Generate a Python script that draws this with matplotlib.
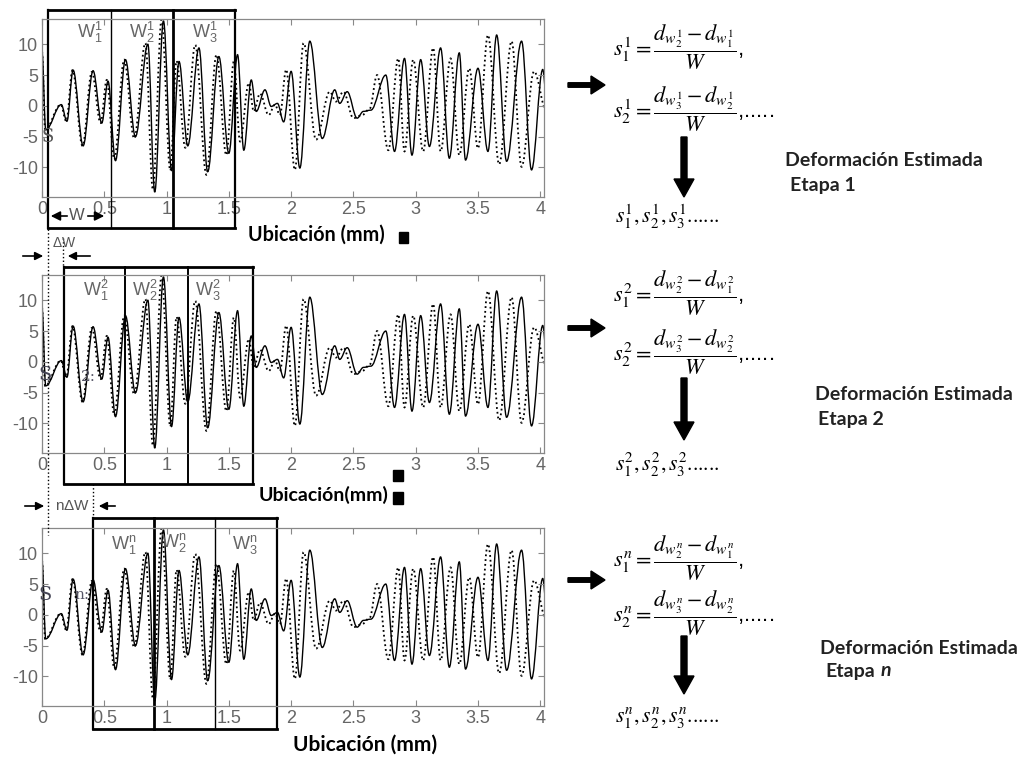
import numpy as np
import matplotlib.pyplot as plt
from matplotlib.patches import FancyArrow, Rectangle, PathPatch
from matplotlib.path import Path

plt.rcParams['mathtext.fontset'] = 'stix'
plt.rcParams['axes.unicode_minus'] = False
plt.rcParams['font.family'] = ['Liberation Sans', 'DejaVu Sans']

# trace extrema (x in mm)
solid_x = [0.0, 0.03, 0.155, 0.2, 0.25, 0.33, 0.41, 0.48, 0.53, 0.59, 0.67, 0.75,
           0.85, 0.905, 0.975, 1.04, 1.1, 1.17, 1.26, 1.33, 1.42, 1.5, 1.57, 1.62,
           1.68, 1.72, 1.79, 1.84, 1.89, 1.94, 2.0, 2.07, 2.15, 2.25, 2.35, 2.39,
           2.45, 2.53, 2.58, 2.64, 2.76, 2.83, 2.91, 2.97, 3.04, 3.11, 3.2, 3.27,
           3.35, 3.4, 3.5, 3.58, 3.65, 3.73, 3.85, 3.93, 4.02, 4.05]
solid_y = [8.8, -3.9, 0.2, -2.5, 5.8, -6.5, 5.7, -2.8, 4.0, -8.9, 7.5, -5.0,
           10.0, -14.0, 13.8, -10.5, 7.2, -6.5, 9.4, -10.7, 8.0, -7.7, 8.3, -7.2,
           4.2, -0.9, 2.6, -0.1, 0.4, -2.6, 5.6, -10.1, 10.5, -5.3, 2.6, 0.4,
           2.3, -2.0, -0.9, -0.7, 5.0, -7.4, 7.7, -8.0, 7.5, -6.6, 9.4, -8.5,
           8.6, -8.8, 6.1, -7.4, 11.5, -9.0, 10.5, -10.4, 5.9, 1.3]

dotted_x = [0.0, 0.025, 0.15, 0.195, 0.245, 0.325, 0.4, 0.47, 0.52, 0.58, 0.66, 0.74,
            0.83, 0.89, 0.96, 1.03, 1.08, 1.15, 1.23, 1.32, 1.4, 1.48, 1.54, 1.59,
            1.66, 1.7, 1.75, 1.82, 1.87, 1.91, 1.96, 2.03, 2.1, 2.2, 2.31, 2.36,
            2.42, 2.5, 2.57, 2.63, 2.69, 2.78, 2.86, 2.91, 2.98, 3.06, 3.14, 3.2,
            3.28, 3.35, 3.43, 3.5, 3.58, 3.67, 3.77, 3.85, 3.95, 4.05]
dotted_y = [8.8, -3.9, 0.2, -2.5, 5.8, -6.5, 5.5, -2.8, 4.2, -8.7, 7.5, -5.3,
            10.2, -13.6, 14.0, -10.5, 7.3, -6.8, 9.9, -11.2, 8.3, -8.0, 7.2, -5.8,
            3.7, -0.9, 2.0, -1.5, 0.2, -1.5, 5.9, -10.4, 10.2, -5.5, 2.3, 0.7,
            2.3, -2.0, -1.5, -0.5, 5.0, -7.2, 7.7, -7.4, 7.5, -7.4, 9.4, -7.4,
            7.7, -8.0, 6.1, -6.9, 11.5, -9.5, 10.5, -9.9, 5.6, -0.9]

x_ticks = [0, 0.5, 1, 1.5, 2, 2.5, 3, 3.5, 4]
x_tick_labels = ['0', '0.5', '1', '1.5', '2', '2.5', '3', '3.5', '4']
y_ticks = [-10, -5, 0, 5, 10]

# window edges (mm) for each stage
windows = [[0.05, 0.55, 1.05, 1.55],
           [0.18, 0.67, 1.17, 1.69],
           [0.41, 0.90, 1.39, 1.89]]
stage_sup = ['1', '2', 'n']
xlabels = ['Ubicación (mm)', 'Ubicación(mm)', 'Ubicación (mm)']

W, H = 1021, 758
fig = plt.figure(figsize=(W / 100, H / 100), dpi=100)


def fx(px):
    return px / W


def fy(py):
    return 1 - py / H


def smooth_trace(ax, xs, ys, **kw):
    # cubic bezier between extrema, flat tangents at each extremum
    verts = [(xs[0], ys[0])]
    codes = [Path.MOVETO]
    for i in range(1, len(xs)):
        dx = xs[i] - xs[i - 1]
        verts += [(xs[i - 1] + 0.36 * dx, ys[i - 1]), (xs[i] - 0.36 * dx, ys[i]), (xs[i], ys[i])]
        codes += [Path.CURVE4] * 3
    ax.add_patch(PathPatch(Path(verts, codes), fill=False, **kw))


# axes top/bottom in pixels
panel_tb = [(19, 197), (275, 453), (528, 706)]
box_tb = [(10, 228), (267, 484), (518, 729)]
divider_lw = [[1.0, 2.0], [1.4, 1.4], [2.0, 1.0]]

axes = []
for i, (top, bot) in enumerate(panel_tb):
    ax = fig.add_axes([fx(42), fy(bot), fx(544) - fx(42), (bot - top) / H])
    smooth_trace(ax, solid_x, solid_y, color='k', lw=1.0)
    smooth_trace(ax, dotted_x, dotted_y, color='k', ls=':', lw=1.3)
    ax.set_xlim(0, 4.03)
    ax.set_ylim(-14.8, 14.1)
    ax.set_xticks(x_ticks)
    ax.set_xticklabels(x_tick_labels)
    ax.set_yticks(y_ticks)
    ax.tick_params(direction='in', top=True, right=True, length=4,
                   color='#888', labelcolor='#666', labelsize=13, pad=3)
    for s in ax.spines.values():
        s.set_color('#888')
        s.set_linewidth(0.9)

    # window boxes
    btop, bbot = box_tb[i]
    yt = (bot - btop) / (bot - top)
    yb = (bot - bbot) / (bot - top)
    tr = ax.get_xaxis_transform()
    edges = windows[i]
    ax.plot([edges[0], edges[-1]], [yt, yt], color='k', lw=2.0, transform=tr, clip_on=False)
    ax.plot([edges[0], edges[-1]], [yb, yb], color='k', lw=2.0, transform=tr, clip_on=False)
    ax.plot([edges[0], edges[0]], [yb, yt], color='k', lw=1.6, transform=tr, clip_on=False)
    ax.plot([edges[-1], edges[-1]], [yb, yt], color='k', lw=1.6, transform=tr, clip_on=False)
    for e, lw in zip(edges[1:3], divider_lw[i]):
        ax.plot([e, e], [yb, yt], color='k', lw=lw, transform=tr, clip_on=False)
    axes.append(ax)

# overlay in pixel units for annotations
ov = fig.add_axes([0, 0, 1, 1])
ov.set_xlim(0, W)
ov.set_ylim(H, 0)
ov.axis('off')
ov.patch.set_alpha(0)

# window labels
wlab_pos = [[(90, 32), (142, 32), (205, 32)],
            [(96, 290), (145, 290), (208, 290)],
            [(124, 544), (174, 542), (245, 545)]]
for i, pos in enumerate(wlab_pos):
    for j, (px, py) in enumerate(pos):
        ov.text(px, py, r'$\mathregular{W_{%d}^{%s}}$' % (j + 1, stage_sup[i]),
                ha='center', va='center', fontsize=13, color='#666')

# S labels
ov.text(48, 137, 'S', ha='center', va='center', fontsize=13, color='#555', family='DejaVu Serif')
ov.text(45, 375, 'S', ha='center', va='center', fontsize=14, color='#445', family='DejaVu Serif')
ov.text(88, 377, '2:', ha='center', va='center', fontsize=11, color='#556', family='DejaVu Serif')
ov.text(45, 595, 'S', ha='center', va='center', fontsize=14, color='#445', family='DejaVu Serif')
ov.text(82, 595, 'n:', ha='center', va='center', fontsize=11, color='#556', family='DejaVu Serif')

# x labels
ov.text(316, 235, xlabels[0], ha='center', va='center', fontsize=14.2, weight='bold', family='Lato')
ov.text(324, 495, xlabels[1], ha='center', va='center', fontsize=14, weight='bold', family='Lato')
ov.text(365, 745, xlabels[2], ha='center', va='center', fontsize=15, weight='bold', family='Lato')
for (sx, sy, sw, sh) in [(403, 237, 9, 11), (397.5, 475, 10, 11), (397.5, 498, 10, 12)]:
    ov.add_patch(Rectangle((sx - sw / 2, sy - sh / 2), sw, sh, color='k'))

# W width marker under panel 1
ov.annotate('', xy=(48, 216), xytext=(70, 216),
            arrowprops=dict(arrowstyle='-|>', color='k', lw=1.2, mutation_scale=14))
ov.annotate('', xy=(107, 216), xytext=(85, 216),
            arrowprops=dict(arrowstyle='-|>', color='k', lw=1.2, mutation_scale=14))
ov.text(77, 216, 'W', ha='center', va='center', fontsize=12, color='#555')

# shift markers
ov.plot([48, 48], [229, 535], color='k', ls=':', lw=1.0)
ov.plot([63, 63], [238, 267], color='k', ls=':', lw=1.0)
ov.plot([93, 93], [484, 518], color='k', ls=':', lw=1.0)
ov.text(64, 243, r'$\mathregular{\Delta W}$', ha='center', va='center', fontsize=10, color='#555')
ov.annotate('', xy=(46, 256), xytext=(20, 256),
            arrowprops=dict(arrowstyle='-|>', color='k', lw=1.2, mutation_scale=12))
ov.annotate('', xy=(65, 256), xytext=(93, 256),
            arrowprops=dict(arrowstyle='-|>', color='k', lw=1.2, mutation_scale=12))
ov.text(73, 506, r'$\mathregular{n\Delta W}$', ha='center', va='center', fontsize=11, color='#555')
ov.annotate('', xy=(47, 506), xytext=(22, 506),
            arrowprops=dict(arrowstyle='-|>', color='k', lw=1.2, mutation_scale=12))
ov.annotate('', xy=(96, 506), xytext=(118, 506),
            arrowprops=dict(arrowstyle='-|>', color='k', lw=1.2, mutation_scale=12))

# right-hand side: strain estimates per stage
eq1_y = [47, 293, 558]
eq2_y = [109, 352, 613]
rarrow_y = [85, 328, 580]
darrow = [(137, 197), (378, 440), (636, 694)]
list_y = [217, 465, 718]
label_pos = [((785, 160), (790, 185)), ((815, 395), (818, 420)), ((820, 648), (825, 672))]

for i in range(3):
    k = stage_sup[i]
    ov.add_patch(FancyArrow(568, rarrow_y[i], 37, 0, width=4.5, head_width=18,
                            head_length=14, length_includes_head=True, color='k'))
    ov.text(613, eq1_y[i], r'$s_1^{%s}=\dfrac{d_{w_2^{%s}}-d_{w_1^{%s}}}{W}$,' % (k, k, k),
            ha='left', va='center', fontsize=16)
    ov.text(613, eq2_y[i], r'$s_2^{%s}=\dfrac{d_{w_3^{%s}}-d_{w_2^{%s}}}{W}$,.....' % (k, k, k),
            ha='left', va='center', fontsize=16)
    y0, y1 = darrow[i]
    ov.add_patch(FancyArrow(684, y0, 0, y1 - y0, width=6, head_width=20,
                            head_length=18, length_includes_head=True, color='k'))
    ov.text(615, list_y[i], r'$s_1^{%s},s_2^{%s},s_3^{%s}$......' % (k, k, k),
            ha='left', va='center', fontsize=15.5, family='STIXGeneral')
    (lx, ly), (ex, ey) = label_pos[i]
    ov.text(lx, ly, 'Deformación Estimada', ha='left', va='center', fontsize=14,
            weight='bold', family='Lato', color='#222')
    if k != 'n':
        ov.text(ex, ey, 'Etapa ' + k, ha='left', va='center',
                fontsize=14, weight='bold', family='Lato', color='#222')
    else:
        et = ov.text(ex, ey, 'Etapa', ha='left', va='center',
                     fontsize=14, weight='bold', family='Lato', color='#222')
        ov.annotate('n', xy=(1, 0), xycoords=et, xytext=(4, 3.2),
                    textcoords='offset points', ha='left', va='baseline', fontsize=14,
                    weight='bold', style='italic', family='Lato', color='#222')

fig.savefig('out.png', dpi=100)
